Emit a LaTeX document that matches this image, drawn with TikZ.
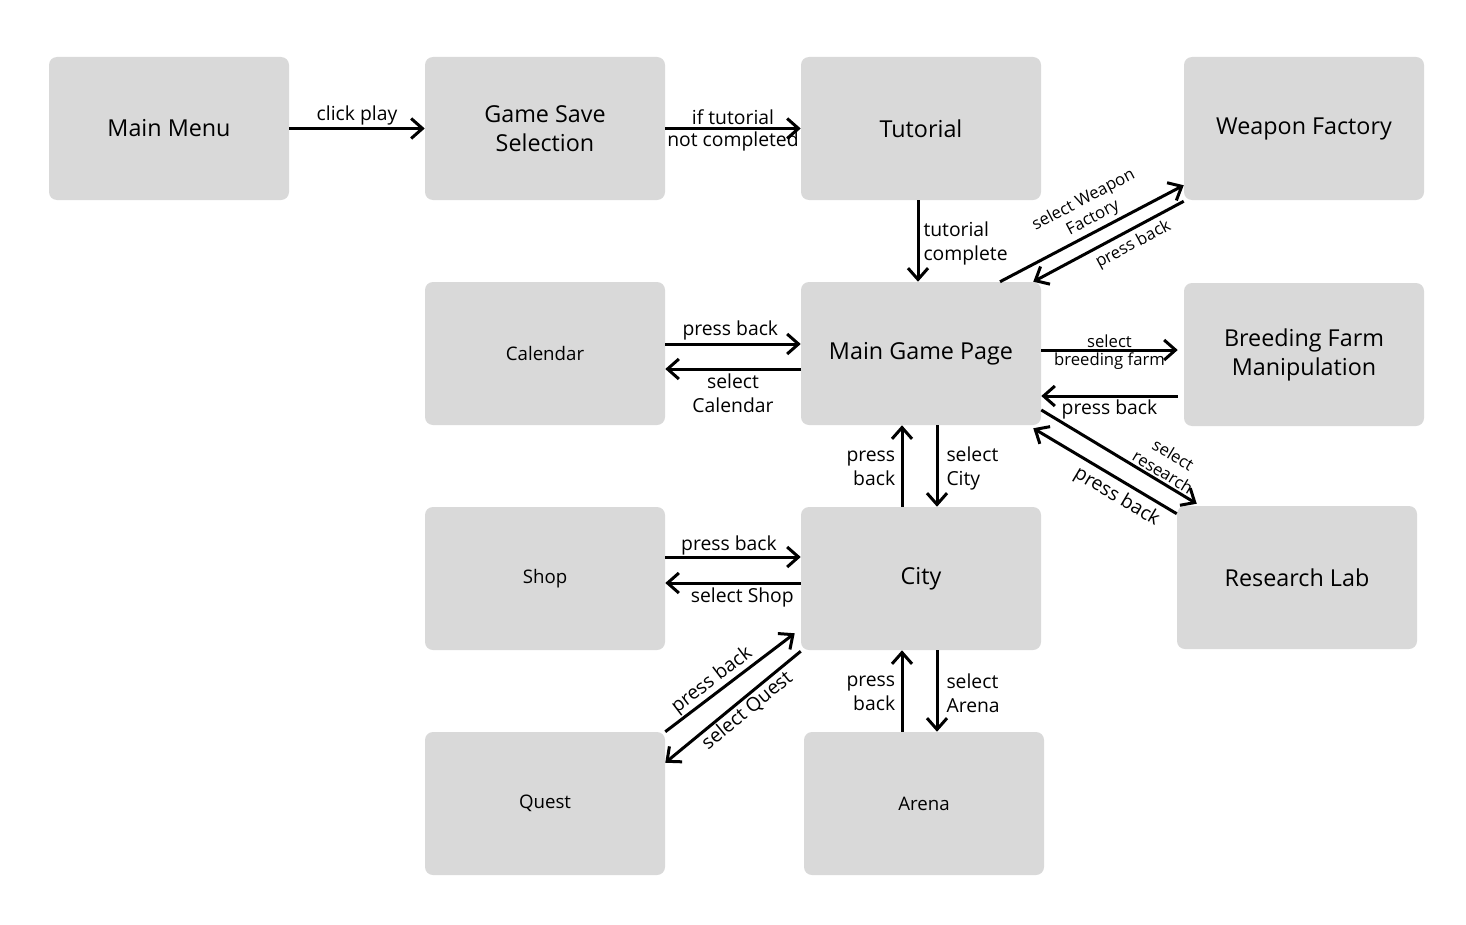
\documentclass[tikz,border=0pt]{standalone}
\usepackage{fontspec}
\setmainfont{Open Sans}
\usetikzlibrary{arrows.meta,calc}
\definecolor{boxgray}{HTML}{D9D9D9}
\begin{document}
\begin{tikzpicture}[x=0.75pt,y=-0.75pt,
 box/.style={fill=boxgray, rounded corners=6pt, minimum width=180pt, minimum height=107.25pt, inner sep=0pt, align=center, font=\fontsize{17.5}{21.75}\selectfont},
 sbox/.style={box, font=\fontsize{14}{17}\selectfont},
 arr/.style={line width=2.25pt, -{Straight Barb[length=8.5pt,width=15pt]}},
 lbl/.style={font=\fontsize{14.5}{18}\selectfont, inner sep=1.5pt, align=center},
 slbl/.style={font=\fontsize{12.5}{15}\selectfont, inner sep=1.5pt, align=center}]
\useasboundingbox (0,0) rectangle (1466,924);
\node[box] (mm) at (169,128.5) {Main Menu};
\node[box] (gss) at (545,128.5) {Game Save\\Selection};
\node[box] (tut) at (921,128.5) {Tutorial};
\node[box] (wf) at (1304,128.5) {Weapon Factory};
\node[sbox] (cal) at (545,353.5) {Calendar};
\node[box] (mgp) at (921,353.5) {Main Game Page};
\node[box] (bfm) at (1304,354.5) {Breeding Farm\\Manipulation};
\node[sbox] (shop) at (545,578.5) {Shop};
\node[box] (city) at (921,578.5) {City};
\node[box] (rl) at (1297,577.5) {Research Lab};
\node[sbox] (quest) at (545,803.5) {Quest};
\node[sbox] (arena) at (924,803.5) {Arena};

\draw[arr] (mm.east) -- node[lbl, above] {click play} (gss.west);
\draw[arr] (gss.east) -- node[lbl, above, inner sep=1.5pt] {if tutorial} node[lbl, below, inner sep=1.5pt] {not completed} (tut.west);
\draw[arr] ($(tut.south)+(-3,0)$) -- node[lbl, right, align=left, inner sep=3pt, yshift=-2pt] {tutorial\\complete} ($(mgp.north)+(-3,0)$);
\draw[arr] ($(mgp.north)+(79,0)$) -- node[slbl, sloped, above, pos=0.54, inner sep=2.5pt] {select Weapon\\Factory} ($(wf.south west)+(0,-15)$);
\draw[arr] ($(wf.south west)+(0,1)$) -- node[slbl, sloped, below, pos=0.38, inner sep=3.5pt] {press back} ($(mgp.north east)+(-8,0)$);
\draw[arr] ($(cal.east)+(0,-9.5)$) -- node[lbl, above, xshift=-2pt] {press back} ($(mgp.west)+(0,-9.5)$);
\draw[arr] ($(mgp.west)+(0,15.5)$) -- node[lbl, below, inner sep=2.5pt] {select\\Calendar} ($(cal.east)+(0,15.5)$);
\draw[arr] ($(mgp.east)+(0,-3.5)$) -- node[slbl, above, inner sep=1pt] {select} node[slbl, below, inner sep=1pt] {breeding farm} ($(bfm.west)+(-6,-4.5)$);
\draw[arr] ($(bfm.west)+(-6,41.5)$) -- node[lbl, below, inner sep=2pt] {press back} ($(mgp.east)+(0,42.5)$);
\draw[arr] ($(mgp.east)+(0,56.5)$) -- node[slbl, sloped, above, pos=0.75] {select\\research} ($(rl.north west)+(20,-2)$);
\draw[arr] ($(rl.north west)+(0,8)$) -- node[lbl, sloped, below, pos=0.36, inner sep=4pt] {press back} ($(mgp.south east)+(-8,3)$);
\draw[arr] ($(mgp.south)+(16,0)$) -- node[lbl, right, align=left, inner sep=6pt, yshift=-2pt] {select\\City} ($(city.north)+(16,0)$);
\draw[arr] ($(city.north)+(-19,0)$) -- node[lbl, left, align=right, inner sep=4pt, yshift=-2pt] {press\\back} ($(mgp.south)+(-19,0)$);
\draw[arr] ($(shop.east)+(0,-21.5)$) -- node[lbl, above, inner sep=0.5pt, xshift=-3pt] {press back} ($(city.west)+(0,-21.5)$);
\draw[arr] ($(city.west)+(0,4.5)$) -- node[lbl, below, xshift=7pt, inner sep=2.5pt] {select Shop} ($(shop.east)+(0,4.5)$);
\draw[arr] ($(city.south)+(16,0)$) -- node[lbl, right, align=left, inner sep=6pt, yshift=-2pt] {select\\Arena} ($(arena.north)+(13,0)$);
\draw[arr] ($(arena.north)+(-22,0)$) -- node[lbl, left, align=right, inner sep=4pt, yshift=-2pt] {press\\back} ($(city.south)+(-19,0)$);
\draw[arr] (quest.north east) -- node[lbl, sloped, above, pos=0.42, inner sep=1pt] {press back} ($(city.south west)+(-6,-17)$);
\draw[arr] ($(city.south west)+(0,1)$) -- node[lbl, sloped, below, pos=0.45, inner sep=1pt] {select Quest} ($(quest.north east)+(0,31)$);
\end{tikzpicture}
\end{document}
